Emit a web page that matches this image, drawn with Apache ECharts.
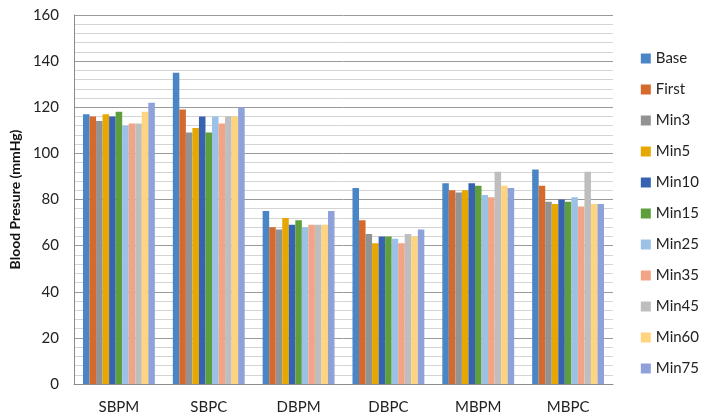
<!DOCTYPE html>
<html>
<head>
<meta charset="utf-8">
<script src="https://cdn.jsdelivr.net/npm/echarts@6/dist/echarts.min.js"></script>
<style>
  html, body { margin: 0; padding: 0; background: #fff; }
  #main { width: 708px; height: 420px; }
</style>
</head>
<body>
<div id="main"></div>
<script>
const categories = ["SBPM", "SBPC", "DBPM", "DBPC", "MBPM", "MBPC"];
const seriesNames = ["Base", "First", "Min3", "Min5", "Min10", "Min15", "Min25", "Min35", "Min45", "Min60", "Min75"];
const base  = [117, 135, 75, 85, 87, 93];
const first = [116, 119, 68, 71, 84, 86];
const min3  = [114, 109, 67, 65, 83, 79];
const min5  = [117, 111, 72, 61, 84, 78];
const min10 = [116, 116, 69, 64, 87, 80];
const min15 = [118, 109, 71, 64, 86, 79];
const min25 = [112, 116, 68, 63, 82, 81];
const min35 = [113, 113, 69, 61, 81, 77];
const min45 = [113, 116, 69, 65, 92, 92];
const min60 = [118, 116, 69, 64, 86, 78];
const min75 = [122, 120, 75, 67, 85, 78];
const yTicks = [0, 20, 40, 60, 80, 100, 120, 140, 160];

const values = [base, first, min3, min5, min10, min15, min25, min35, min45, min60, min75];
const colors = ["#4A86C5", "#D6692C", "#929292", "#E6A700", "#3762B2", "#5F9E3D",
                "#9CC1E7", "#F2A486", "#BEBEBE", "#FFD47E", "#8EA2D9"];

const font = "Lato, 'Open Sans', sans-serif";

const option = {
  animation: false,
  textStyle: { fontFamily: font },
  color: colors,
  grid: { left: 66, right: 95, top: 15, bottom: 36 },
  legend: {
    orient: "vertical",
    right: 4,
    top: 46,
    itemWidth: 10,
    itemHeight: 10,
    itemGap: 16,
    icon: "rect",
    textStyle: { fontSize: 15, color: "#222", fontFamily: font },
    data: seriesNames
  },
  xAxis: {
    type: "category",
    data: categories,
    axisLine: { lineStyle: { color: "#8c8c8c" } },
    axisTick: { show: false },
    axisLabel: { fontSize: 15, color: "#222", margin: 16 }
  },
  yAxis: {
    type: "value",
    min: yTicks[0],
    max: yTicks[yTicks.length - 1],
    interval: 20,
    name: "Blood Presure (mmHg)",
    nameLocation: "middle",
    nameGap: 46,
    nameTextStyle: { fontSize: 14, fontWeight: "bold", color: "#111" },
    axisLine: { show: true, lineStyle: { color: "#8c8c8c" } },
    axisTick: { show: false },
    axisLabel: { fontSize: 15, color: "#222", margin: 15 },
    splitLine: { lineStyle: { color: "#9a9a9a" } },
    minorTick: { show: false, splitNumber: 5 },
    minorSplitLine: { show: true, lineStyle: { color: "#d4d4d4" } }
  },
  series: seriesNames.map((name, i) => ({
    name: name,
    type: "bar",
    data: values[i],
    barGap: "0%",
    barCategoryGap: "20%"
  }))
};

const myChart = echarts.init(document.getElementById("main"));
myChart.setOption(option);
</script>
</body>
</html>
